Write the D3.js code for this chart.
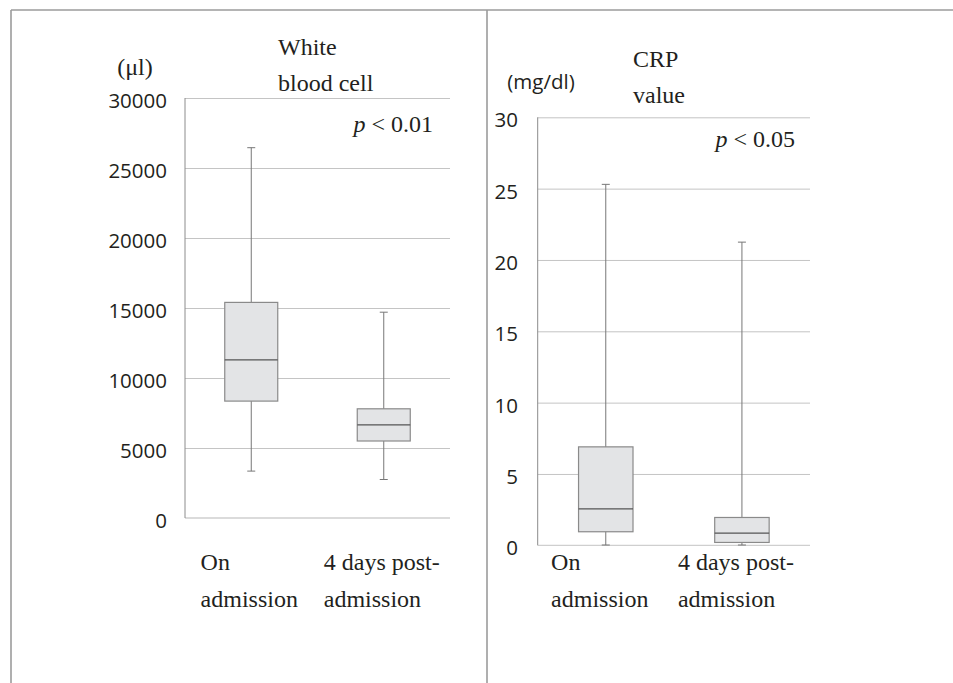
<!DOCTYPE html>
<html>
<head>
<meta charset="utf-8">
<script src="https://cdn.jsdelivr.net/npm/d3@7.9.0/dist/d3.min.js"></script>
<style>
  body { margin: 0; background: #fff; }
  svg { display: block; }
  .serif { font-family: "Liberation Serif", "DejaVu Serif", serif; font-size: 24px; fill: #231f20; }
  .sans { font-family: "Open Sans", "Noto Sans", sans-serif; font-size: 20.5px; fill: #231f20; }
</style>
</head>
<body>
<svg id="chart" width="953" height="683"></svg>
<script>
// data
const groups = ["On admission", "4 days post-admission"];
const groupLines = [["On", "admission"], ["4 days post-", "admission"]];

const wbcTicks = [0, 5000, 10000, 15000, 20000, 25000, 30000];
const wbcBoxes = [
  { min: 3350, q1: 8350, median: 11300, q3: 15400, max: 26450 },
  { min: 2750, q1: 5500, median: 6650, q3: 7800, max: 14700 }
];

const crpTicks = [0, 5, 10, 15, 20, 25, 30];
const crpBoxes = [
  { min: 0.02, q1: 0.95, median: 2.55, q3: 6.9, max: 25.3 },
  { min: 0.02, q1: 0.2, median: 0.85, q3: 1.95, max: 21.25 }
];

const svg = d3.select('#chart');

// outer frame and divider
const frame = svg.append('g').attr('stroke', '#9b9b9b').attr('stroke-width', 1.6).attr('fill', 'none');
frame.append('line').attr('x1', 11).attr('x2', 953).attr('y1', 10).attr('y2', 10);
frame.append('line').attr('x1', 11).attr('x2', 11).attr('y1', 10).attr('y2', 683);
frame.append('line').attr('x1', 487).attr('x2', 487).attr('y1', 10).attr('y2', 683);

function label(parent, x, y, str, cls, anchor) {
  return parent.append('text').attr('class', cls).attr('x', x).attr('y', y)
    .attr('text-anchor', anchor || 'start').text(str);
}

function drawPanel(opts) {
  const { left, right, top, bottom, ticks, boxes, title, titleX, titleY, unit, unitX, unitY, unitCls, pText, pX, pY, tickX, labelShift } = opts;
  const g = svg.append('g');

  const y = d3.scaleLinear().domain([ticks[0], ticks[ticks.length - 1]]).range([bottom, top]);
  const x = d3.scaleBand().domain(groups).range([left, right]);

  // gridlines
  g.append('g')
    .attr('transform', `translate(${left},0)`)
    .call(d3.axisLeft(y).tickValues(ticks.slice(1)).tickSize(-(right - left)).tickFormat(''))
    .call(a => a.select('.domain').remove())
    .call(a => a.selectAll('line').attr('stroke', '#c4c4c4').attr('stroke-width', 1));

  // zero line and y axis line
  g.append('line').attr('x1', left).attr('x2', right).attr('y1', y(0)).attr('y2', y(0))
    .attr('stroke', '#cfcfcf').attr('stroke-width', 1.3);
  g.append('line').attr('x1', left).attr('x2', left).attr('y1', y(ticks[ticks.length - 1])).attr('y2', y(0))
    .attr('stroke', '#8c8c8c').attr('stroke-width', 1);

  // tick labels
  ticks.forEach(t => label(g, tickX, y(t) + 10, String(t), 'sans', 'end'));

  // boxes
  const bw = x.bandwidth() * 0.4;
  const cap = 8;
  boxes.forEach((b, i) => {
    const cx = x(groups[i]) + x.bandwidth() / 2;
    const bg = g.append('g');
    bg.append('line').attr('x1', cx).attr('x2', cx).attr('y1', y(b.max)).attr('y2', y(b.min))
      .attr('stroke', '#777').attr('stroke-width', 1);
    [b.max, b.min].forEach(v => {
      bg.append('line').attr('x1', cx - cap / 2).attr('x2', cx + cap / 2).attr('y1', y(v)).attr('y2', y(v))
        .attr('stroke', '#777').attr('stroke-width', 1);
    });
    bg.append('rect').attr('x', cx - bw / 2).attr('width', bw)
      .attr('y', y(b.q3)).attr('height', y(b.q1) - y(b.q3))
      .attr('fill', '#e3e4e6').attr('stroke', '#8a8a8a').attr('stroke-width', 1.2);
    bg.append('line').attr('x1', cx - bw / 2).attr('x2', cx + bw / 2).attr('y1', y(b.median)).attr('y2', y(b.median))
      .attr('stroke', '#555').attr('stroke-width', 1.2);

    // category labels, block centred on the band
    const tmp = groupLines[i].map((ln, k) => label(g, 0, 570 + k * 37, ln, 'serif', 'start'));
    const w = d3.max(tmp, t => t.node().getComputedTextLength());
    tmp.forEach(t => t.attr('x', cx - w / 2 + labelShift));
  });

  // titles
  title.forEach((ln, k) => label(g, titleX, titleY + k * 36, ln, 'serif', 'start'));
  label(g, unitX, unitY, unit, unitCls, 'middle');

  // p-value
  const pt = g.append('text').attr('class', 'serif').attr('x', pX).attr('y', pY).attr('text-anchor', 'end');
  pt.append('tspan').attr('font-style', 'italic').text('p');
  pt.append('tspan').text(' < ' + pText);
}

drawPanel({
  left: 185, right: 450, top: 98, bottom: 518,
  ticks: wbcTicks, boxes: wbcBoxes,
  title: ['White', 'blood cell'], titleX: 278, titleY: 55,
  unit: '(\u03bcl)', unitX: 135, unitY: 75, unitCls: 'serif',
  pText: '0.01', pX: 433, pY: 132, tickX: 167, labelShift: -2
});

drawPanel({
  left: 537.7, right: 810, top: 117.3, bottom: 545.3,
  ticks: crpTicks, boxes: crpBoxes,
  title: ['CRP', 'value'], titleX: 633, titleY: 67,
  unit: '(mg/dl)', unitX: 541, unitY: 89, unitCls: 'sans',
  pText: '0.05', pX: 795, pY: 147, tickX: 518, labelShift: -6
});
</script>
</body>
</html>
